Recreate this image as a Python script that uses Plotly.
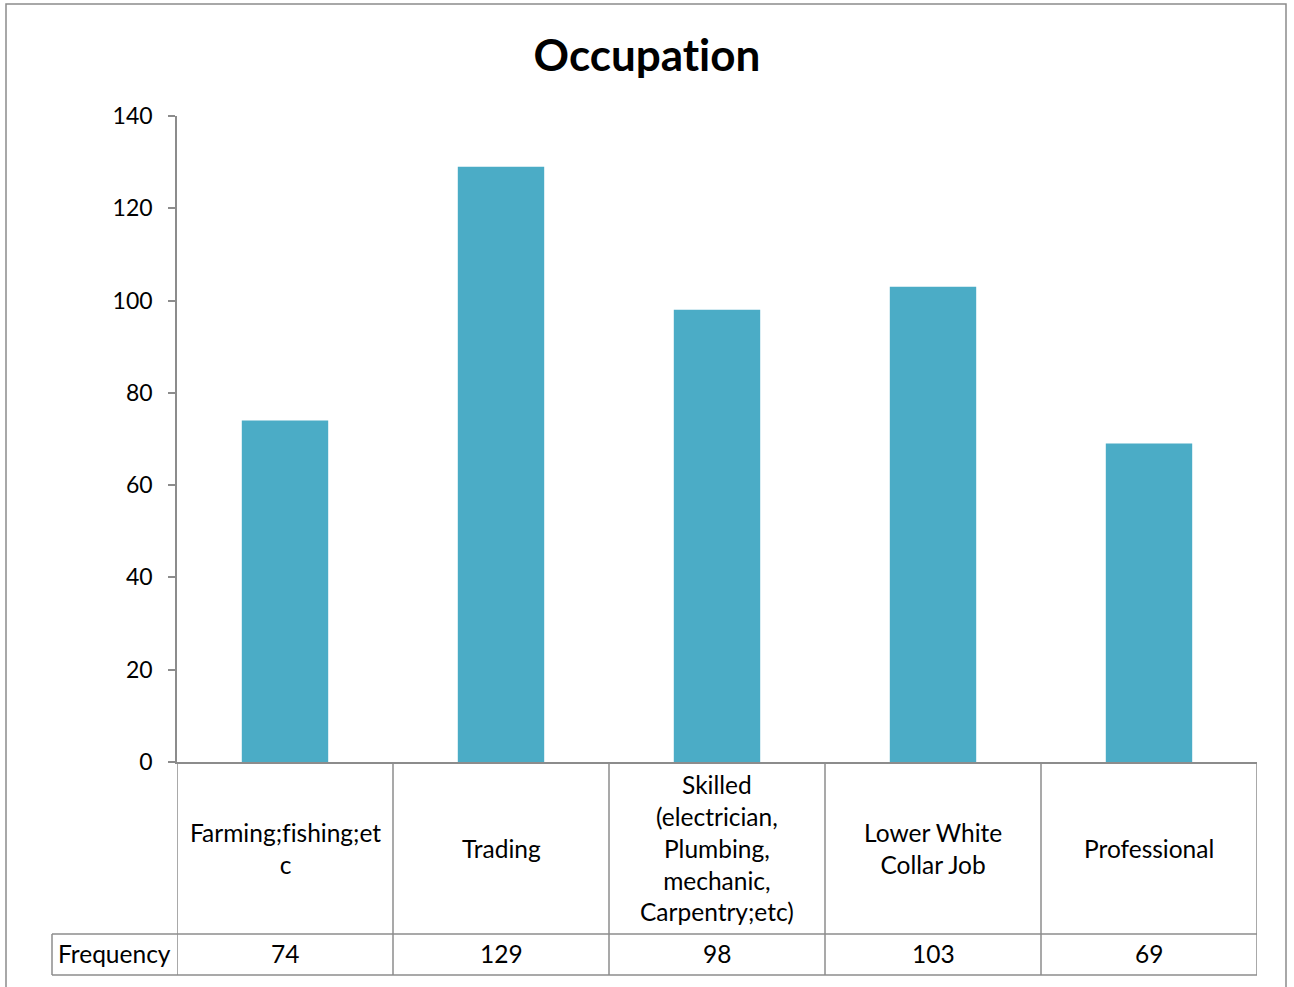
import plotly.graph_objects as go

categories = [
    "Farming;fishing;et<br>c",
    "Trading",
    "Skilled<br>(electrician,<br>Plumbing,<br>mechanic,<br>Carpentry;etc)",
    "Lower White<br>Collar Job",
    "Professional",
]
frequency = [74, 129, 98, 103, 69]
series_name = "Frequency"
y_ticks = [0, 20, 40, 60, 80, 100, 120, 140]
title_text = "Occupation"

W, H = 1294, 987
L, R, T, B = 177, 1257, 116, 762  # plot area in pixels
BAR = "#4BACC6"
LINE = "#8C8C8C"
FONT = "Lato"
TXT = 24.5


def plain(s):
    """render text without typographic ligatures"""
    lines = s.split("<br>")
    return "<br>".join('<span style="font-variant-ligatures:none">%s</span>' % t for t in lines)


def py(p):
    """pixel row -> paper y"""
    return (B - p) / (B - T)


def px(p):
    """pixel column -> paper x"""
    return (p - L) / (R - L)


n = len(categories)
xs = list(range(n))

fig = go.Figure(
    go.Bar(x=xs, y=frequency, marker=dict(color=BAR, line=dict(width=0)), width=0.4,
           name=series_name, showlegend=False)
)

shapes = []
row1, row2 = py(934), py(975)
# vertical table rules at category boundaries
for i in range(n + 1):
    shapes.append(dict(type="line", xref="x", yref="paper", x0=i - 0.5, x1=i - 0.5,
                       y0=0, y1=row2, line=dict(color=LINE, width=1.5)))
# horizontal table rules
for yy in (row1, row2):
    shapes.append(dict(type="line", xref="paper", yref="paper", x0=px(52), x1=1,
                       y0=yy, y1=yy, line=dict(color=LINE, width=1.5)))
shapes.append(dict(type="line", xref="paper", yref="paper", x0=px(52), x1=px(52),
                   y0=row1, y1=row2, line=dict(color=LINE, width=1.5)))
# chart border
shapes.append(dict(type="rect", xref="paper", yref="paper", x0=px(6), x1=px(1286),
                   y0=py(4), y1=py(995), line=dict(color=LINE, width=1.5)))

annotations = []
for i, (c, v) in enumerate(zip(categories, frequency)):
    annotations.append(dict(x=i, y=py(848), xref="x", yref="paper", text=plain(c), showarrow=False,
                            font=dict(family=FONT, size=TXT, color="#000"), align="center",
                            xanchor="center", yanchor="middle"))
    annotations.append(dict(x=i, y=py(954), xref="x", yref="paper", text=str(v), showarrow=False,
                            font=dict(family=FONT, size=TXT, color="#000"),
                            xanchor="center", yanchor="middle"))
annotations.append(dict(x=px(56), y=py(954), xref="paper", yref="paper", text=series_name,
                        showarrow=False, font=dict(family=FONT, size=TXT, color="#000"),
                        xanchor="left", yanchor="middle"))

fig.update_layout(
    width=W, height=H,
    margin=dict(l=L, r=W - R, t=T, b=H - B, pad=0),
    paper_bgcolor="white", plot_bgcolor="white",
    title=dict(text="<b>" + plain(title_text) + "</b>", x=0.5, xref="container", y=1 - 56 / H,
               yref="container", xanchor="center", yanchor="middle",
               font=dict(family=FONT, size=44, color="#000")),
    xaxis=dict(range=[-0.5, n - 0.5], showticklabels=False, ticks="", showgrid=False,
               zeroline=False, showline=True, linecolor=LINE, linewidth=1.5),
    yaxis=dict(range=[0, 140], tickvals=y_ticks, ticks="outside", ticklen=7, tickwidth=1.5,
               tickcolor=LINE, showgrid=False, zeroline=False, showline=True, linecolor=LINE,
               linewidth=1.5, ticklabelstandoff=11,
               tickfont=dict(family=FONT, size=23, color="#000")),
    shapes=shapes,
    annotations=annotations,
    bargap=0.6,
)

fig.write_html("out.html")
